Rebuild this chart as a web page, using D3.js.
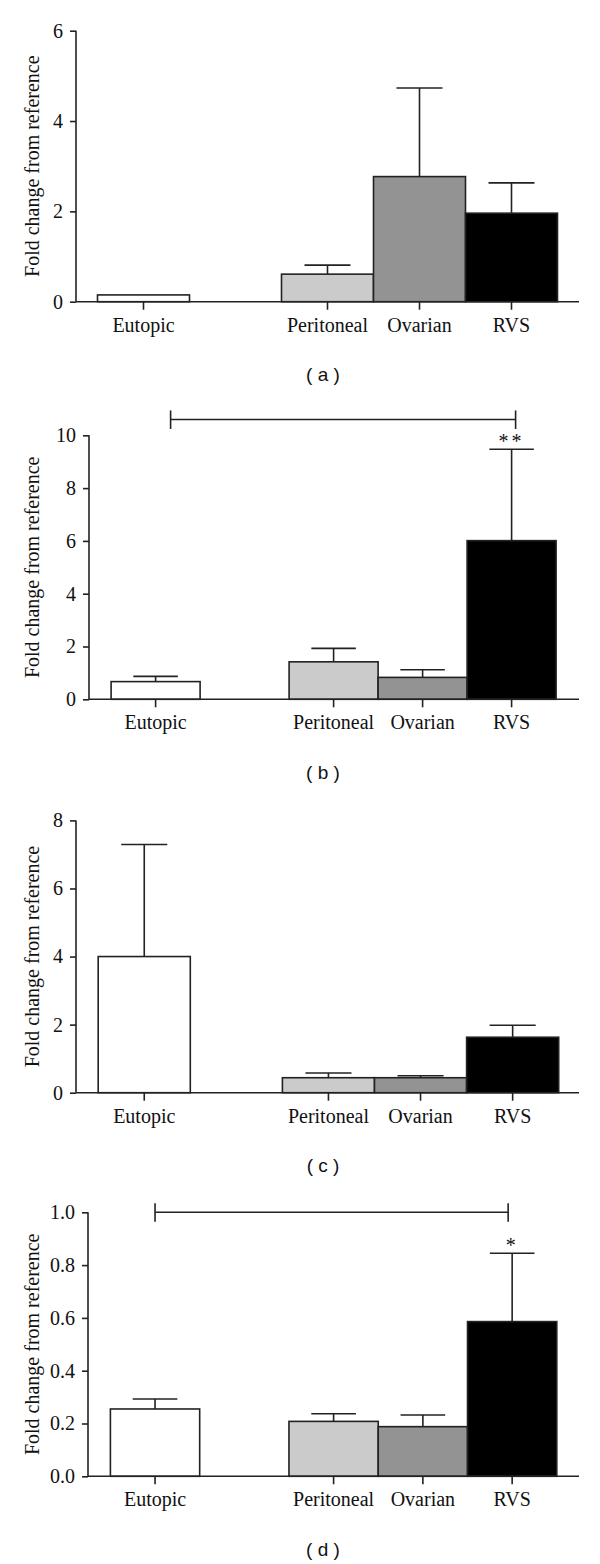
<!DOCTYPE html>
<html>
<head>
<meta charset="utf-8">
<script src="https://cdn.jsdelivr.net/npm/d3@7"></script>
<style>
  html, body { margin: 0; padding: 0; background: #fff; }
  svg { display: block; }
</style>
</head>
<body>
<svg id="chart" width="600" height="1564"></svg>
<script>
// ---------- DATA ----------
const categories = ["Eutopic", "Peritoneal", "Ovarian", "RVS"];
const slots = ["Eutopic", "_gap", "Peritoneal", "Ovarian", "RVS"];
const panelLabels = ["( a )", "( b )", "( c )", "( d )"];
const axisTitle = "Fold change from reference";

const meansA = [0.15, 0.61, 2.77, 1.96];
const errsA  = [0.00, 0.20, 1.96, 0.67];
const ticksA = [0, 2, 4, 6];

const meansB = [0.67, 1.42, 0.83, 6.01];
const errsB  = [0.20, 0.51, 0.29, 3.46];
const ticksB = [0, 2, 4, 6, 8, 10];

const meansC = [4.00, 0.44, 0.44, 1.63];
const errsC  = [3.29, 0.14, 0.06, 0.35];
const ticksC = [0, 2, 4, 6, 8];

const meansD = [0.255, 0.208, 0.188, 0.586];
const errsD  = [0.038, 0.029, 0.044, 0.259];
const ticksD = [0, 0.2, 0.4, 0.6, 0.8, 1.0];

const sigB = { from: "Eutopic", to: "RVS", level: 10.6, mark: "**" };
const sigD = { from: "Eutopic", to: "RVS", level: 1.0, mark: "*" };

const fills = { Eutopic: "#ffffff", Peritoneal: "#cbcbcb", Ovarian: "#939393", RVS: "#000000" };

// ---------- LAYOUT ----------
const panels = [
  { means: meansA, errs: errsA, ticks: ticksA, fmt: d3.format("d"), label: panelLabels[0],
    axisX: 76, y0: 301.7, y1: 30.7, bandL: 97.5, bandR: 557.5, sig: null },
  { means: meansB, errs: errsB, ticks: ticksB, fmt: d3.format("d"), label: panelLabels[1],
    axisX: 89, y0: 699.3, y1: 435.3, bandL: 111.1, bandR: 556.1, sig: sigB, sigOff: [15, 4] },
  { means: meansC, errs: errsC, ticks: ticksC, fmt: d3.format("d"), label: panelLabels[2],
    axisX: 76, y0: 1092.7, y1: 820.4, bandL: 98.2, bandR: 558.7, sig: null },
  { means: meansD, errs: errsD, ticks: ticksD, fmt: d3.format(".1f"), label: panelLabels[3],
    axisX: 88, y0: 1476.3, y1: 1212.3, bandL: 110.4, bandR: 556.8, sig: sigD, sigOff: [0, -4] }
];

const svg = d3.select("#chart");
const ink = "#222";
const serif = "'Liberation Serif', 'Times New Roman', serif";
const sans = "'Liberation Sans', Arial, sans-serif";

panels.forEach(p => {
  const g = svg.append("g");
  const domMax = p.ticks[p.ticks.length - 1];
  const y = d3.scaleLinear().domain([0, domMax]).range([p.y0, p.y1]);
  const x = d3.scaleBand().domain(slots).range([p.bandL, p.bandR]).paddingInner(0).paddingOuter(0);
  const bw = x.bandwidth();

  const rows = categories.map((c, i) => ({ cat: c, mean: p.means[i], err: p.errs[i] }));

  // error bars (upper only), drawn before bars
  const eb = g.append("g").attr("stroke", ink).attr("stroke-width", 1.6).attr("fill", "none");
  rows.filter(r => r.err > 0).forEach(r => {
    const cx = x(r.cat) + bw / 2;
    eb.append("line").attr("x1", cx).attr("x2", cx)
      .attr("y1", y(r.mean)).attr("y2", y(r.mean + r.err));
    eb.append("line").attr("x1", cx - bw * 0.25).attr("x2", cx + bw * 0.25)
      .attr("y1", y(r.mean + r.err)).attr("y2", y(r.mean + r.err));
  });

  // bars
  g.append("g").selectAll("rect").data(rows).join("rect")
    .attr("x", d => x(d.cat))
    .attr("y", d => y(d.mean))
    .attr("width", bw)
    .attr("height", d => y(0) - y(d.mean))
    .attr("fill", d => fills[d.cat])
    .attr("stroke", ink)
    .attr("stroke-width", 1.6);

  // y axis
  const yAxis = d3.axisLeft(y).tickValues(p.ticks).tickFormat(p.fmt).tickSize(6).tickPadding(7);
  const ya = g.append("g").attr("transform", `translate(${p.axisX},0)`).call(yAxis);
  ya.select(".domain").attr("d", `M0,${p.y0}V${p.y1}`);

  // x axis
  const xa = g.append("g").attr("transform", `translate(0,${p.y0})`);
  xa.append("line").attr("x1", p.axisX).attr("x2", 579).attr("y1", 0).attr("y2", 0);
  categories.forEach(c => {
    const cx = x(c) + bw / 2;
    xa.append("line").attr("x1", cx).attr("x2", cx).attr("y1", 0).attr("y2", 8);
    xa.append("text").attr("x", cx).attr("y", 30).attr("text-anchor", "middle").text(c);
  });
  xa.selectAll("line").attr("stroke", ink).attr("stroke-width", 1.6);
  xa.selectAll("text").attr("font-family", serif).attr("font-size", 20).attr("fill", "#111");

  [ya].forEach(a => {
    a.selectAll("path, line").attr("stroke", ink).attr("stroke-width", 1.6);
    a.selectAll("text").attr("font-family", serif).attr("font-size", 20).attr("fill", "#111");
  });

  // y axis title
  g.append("text")
    .attr("transform", `translate(32,${(p.y0 + p.y1) / 2}) rotate(-90)`)
    .attr("text-anchor", "middle").attr("dy", "0.35em")
    .attr("font-family", serif).attr("font-size", 20).attr("fill", "#111")
    .text(axisTitle);

  // significance bracket
  if (p.sig) {
    const xl = x(p.sig.from) + bw / 2 + p.sigOff[0];
    const xr = x(p.sig.to) + bw / 2 + p.sigOff[1];
    const yb = y(p.sig.level);
    const br = g.append("g").attr("stroke", ink).attr("stroke-width", 1.6);
    br.append("line").attr("x1", xl).attr("x2", xr).attr("y1", yb).attr("y2", yb);
    br.append("line").attr("x1", xl).attr("x2", xl).attr("y1", yb - 9).attr("y2", yb + 9.5);
    br.append("line").attr("x1", xr).attr("x2", xr).attr("y1", yb - 9).attr("y2", yb + 9.5);
    const last = rows.find(r => r.cat === p.sig.to);
    g.append("text")
      .attr("x", x(p.sig.to) + bw / 2).attr("y", y(last.mean + last.err) - 1)
      .attr("text-anchor", "middle")
      .attr("font-family", serif).attr("font-size", 20).attr("letter-spacing", 3).attr("fill", "#111")
      .text(p.sig.mark);
  }

  // panel caption
  g.append("text").attr("x", 323).attr("y", p.y0 + 73).attr("dy", "0.35em")
    .attr("text-anchor", "middle")
    .attr("font-family", sans).attr("font-size", 19).attr("fill", "#111")
    .text(p.label);
});
</script>
</body>
</html>
